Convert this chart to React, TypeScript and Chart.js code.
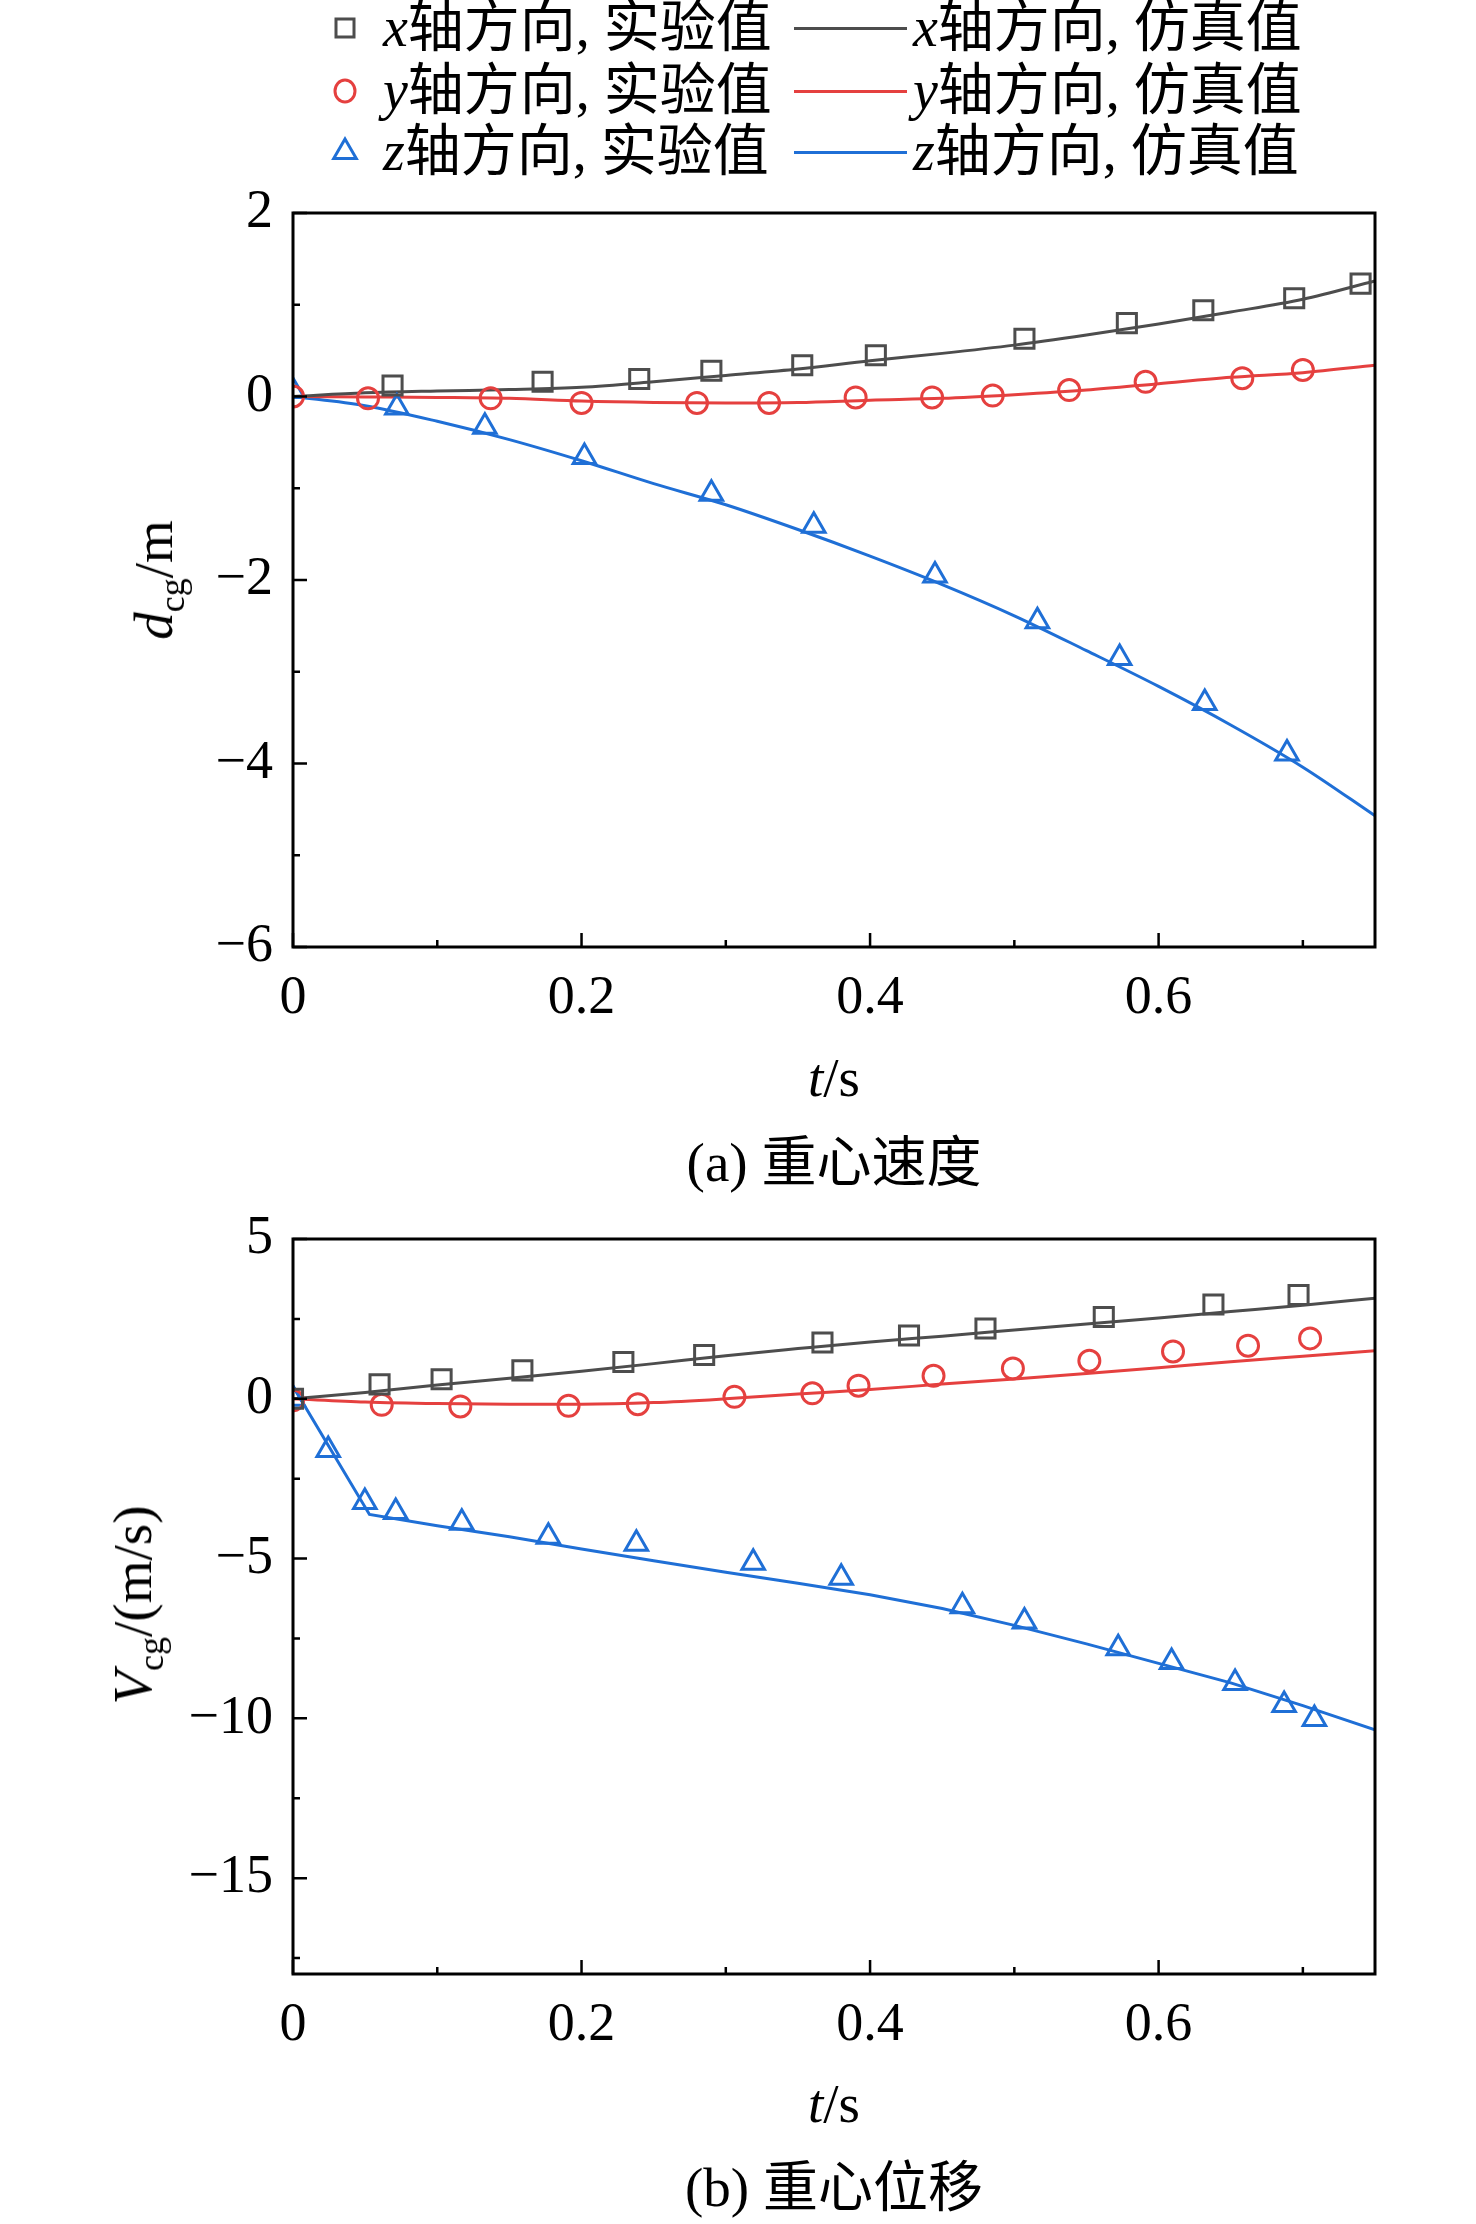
import { useEffect, useRef } from 'react';
import { Chart, registerables } from 'chart.js';

Chart.register(...registerables);

const FONT = '"Liberation Serif", "Noto Sans CJK SC", serif';
const GRAY = '#4d4d4d';
const RED = '#e5403f';
const BLUE = '#1f6fd6';

// shared axis ticks
const xTicks = [0, 0.2, 0.4, 0.6];
const xMinor = [0.1, 0.3, 0.5, 0.7];

// (a) d_cg
const dYTicks = [2, 0, -2, -4, -6];
const dYMinor = [1, -1, -3, -5];

const dxExpT = [0.069, 0.173, 0.24, 0.29, 0.353, 0.404, 0.507, 0.578, 0.631, 0.694, 0.74];
const dxExp = [0.12, 0.16, 0.19, 0.28, 0.34, 0.45, 0.63, 0.8, 0.94, 1.07, 1.23];
const dyExpT = [0, 0.052, 0.137, 0.2, 0.28, 0.33, 0.39, 0.443, 0.485, 0.538, 0.591, 0.658, 0.7];
const dyExp = [0, -0.02, -0.02, -0.07, -0.07, -0.07, -0.01, -0.01, 0.01, 0.07, 0.16, 0.2, 0.29];
const dzExpT = [0, 0.072, 0.133, 0.202, 0.29, 0.361, 0.445, 0.516, 0.573, 0.632, 0.689];
const dzExp = [0.06, -0.12, -0.33, -0.66, -1.06, -1.41, -1.95, -2.45, -2.85, -3.34, -3.89];

const dSimT = [0, 0.05, 0.1, 0.15, 0.2, 0.25, 0.3, 0.35, 0.4, 0.45, 0.5, 0.55, 0.6, 0.65, 0.7, 0.75];
const dxSim = [0, 0.04, 0.06, 0.075, 0.1, 0.16, 0.23, 0.3, 0.39, 0.47, 0.56, 0.67, 0.79, 0.92, 1.06, 1.26];
const dySim = [0, -0.005, -0.01, -0.02, -0.05, -0.065, -0.07, -0.065, -0.04, -0.02, 0.02, 0.07, 0.14, 0.21, 0.26, 0.34];
const dzSim = [0, -0.1, -0.27, -0.47, -0.7, -0.95, -1.18, -1.45, -1.74, -2.05, -2.39, -2.77, -3.16, -3.58, -4.04, -4.57];

// (b) V_cg
const vYTicks = [5, 0, -5, -10, -15];
const vYMinor = [2.5, -2.5, -7.5, -12.5, -17.5];

const vxExpT = [0, 0.06, 0.103, 0.159, 0.229, 0.285, 0.367, 0.427, 0.48, 0.562, 0.638, 0.697];
const vxExp = [0, 0.45, 0.61, 0.89, 1.15, 1.37, 1.76, 1.98, 2.2, 2.56, 2.95, 3.25];
const vyExpT = [0, 0.0615, 0.116, 0.191, 0.239, 0.306, 0.36, 0.392, 0.444, 0.499, 0.552, 0.61, 0.662, 0.705];
const vyExp = [-0.05, -0.19, -0.24, -0.22, -0.17, 0.06, 0.17, 0.41, 0.72, 0.95, 1.19, 1.48, 1.66, 1.89];
const vzExpT = [0, 0.0244, 0.0498, 0.0712, 0.117, 0.177, 0.238, 0.319, 0.38, 0.464, 0.507, 0.572, 0.609, 0.653, 0.687, 0.708];
const vzExp = [0, -1.6, -3.23, -3.54, -3.88, -4.32, -4.54, -5.13, -5.6, -6.49, -6.97, -7.81, -8.24, -8.89, -9.58, -10.02];

const vSimT = [0, 0.05, 0.1, 0.15, 0.2, 0.25, 0.3, 0.35, 0.4, 0.45, 0.5, 0.55, 0.6, 0.65, 0.7, 0.75];
const vxSim = [0, 0.2, 0.43, 0.64, 0.86, 1.1, 1.35, 1.57, 1.78, 1.96, 2.15, 2.34, 2.53, 2.73, 2.93, 3.15];
const vySim = [0, -0.1, -0.15, -0.17, -0.17, -0.12, 0, 0.15, 0.29, 0.46, 0.62, 0.79, 0.97, 1.16, 1.33, 1.5];
const vzSimT = [0, 0.053, 0.1, 0.15, 0.2, 0.25, 0.3, 0.35, 0.4, 0.45, 0.5, 0.55, 0.6, 0.65, 0.7, 0.75];
const vzSim = [0.39, -3.62, -3.97, -4.32, -4.7, -5.07, -5.43, -5.77, -6.13, -6.56, -7.09, -7.67, -8.28, -8.89, -9.6, -10.36];

const pts = (xs: number[], ys: number[]) => xs.map((x, i) => ({ x, y: ys[i] }));
const fmt = (v: number) => (v < 0 ? '\u2212' + Math.abs(v) : String(v));

const exp = (data: any[], color: string, style: string, radius: number) => ({
  data,
  showLine: false,
  pointStyle: style,
  pointRadius: radius,
  pointBorderColor: color,
  pointBackgroundColor: 'rgba(0,0,0,0)',
  pointBorderWidth: 3,
});
const sim = (data: any[], color: string, tension = true) => ({
  data,
  showLine: true,
  borderColor: color,
  borderWidth: 3,
  pointRadius: 0,
  cubicInterpolationMode: tension ? 'monotone' : 'default',
});

// frame and inward ticks
const frameTicks = {
  id: 'frameTicks',
  afterDraw(chart: any, _args: any, opts: any) {
    const { ctx, chartArea: a, scales } = chart;
    ctx.save();
    ctx.strokeStyle = '#000';
    ctx.lineWidth = 2.5;
    ctx.beginPath();
    const xt = (v: number, len: number) => {
      const p = scales.x.getPixelForValue(v);
      ctx.moveTo(p, a.bottom);
      ctx.lineTo(p, a.bottom - len);
    };
    const yt = (v: number, len: number) => {
      const p = scales.y.getPixelForValue(v);
      ctx.moveTo(a.left, p);
      ctx.lineTo(a.left + len, p);
    };
    opts.xMajor.forEach((v: number) => xt(v, 14));
    opts.xMinor.forEach((v: number) => xt(v, 7));
    opts.yMajor.forEach((v: number) => yt(v, 14));
    opts.yMinor.forEach((v: number) => yt(v, 7));
    ctx.stroke();
    ctx.lineWidth = 3;
    ctx.strokeRect(a.left, a.top, a.right - a.left, a.bottom - a.top);
    ctx.restore();
  },
};

type PanelProps = {
  areaTop: number;
  areaBottom: number;
  yMin: number;
  yMax: number;
  yTicks: number[];
  yMinor: number[];
  datasets: any[];
};

const CANVAS_H = 880;
const TOP_PAD = 60;

function Panel(props: PanelProps) {
  const ref = useRef<HTMLCanvasElement | null>(null);
  const canvasTop = props.areaTop - TOP_PAD;

  useEffect(() => {
    if (!ref.current) return;
    const xHeight = CANVAS_H - (props.areaBottom - canvasTop);
    const tickFont = { family: FONT, size: 54 };
    const chart = new Chart(ref.current, {
      type: 'scatter',
      data: { datasets: props.datasets },
      plugins: [frameTicks],
      options: {
        animation: false,
        responsive: false,
        layout: { padding: { top: TOP_PAD, right: 101, left: 0, bottom: 0 } },
        plugins: {
          legend: { display: false },
          tooltip: { enabled: false },
          frameTicks: { xMajor: xTicks, xMinor, yMajor: props.yTicks, yMinor: props.yMinor },
        } as any,
        scales: {
          x: {
            type: 'linear',
            min: 0,
            max: 0.75,
            grid: { display: false, drawTicks: false },
            border: { display: false },
            ticks: { font: tickFont, color: '#000', padding: 19, maxRotation: 0, callback: (v: any) => fmt(Number(v)) },
            afterBuildTicks: (s: any) => {
              s.ticks = xTicks.map((value) => ({ value }));
            },
            afterFit: (s: any) => {
              s.height = xHeight;
            },
          },
          y: {
            type: 'linear',
            min: props.yMin,
            max: props.yMax,
            grid: { display: false, drawTicks: false },
            border: { display: false },
            ticks: { font: tickFont, color: '#000', padding: 20, callback: (v: any) => fmt(Number(v)) },
            afterBuildTicks: (s: any) => {
              s.ticks = props.yTicks.map((value) => ({ value }));
            },
            afterFit: (s: any) => {
              s.width = 293;
            },
          },
        },
      } as any,
    });
    return () => chart.destroy();
  }, [props]);

  return (
    <canvas
      ref={ref}
      width={1476}
      height={CANVAS_H}
      style={{ position: 'absolute', left: 0, top: canvasTop, width: 1476, height: CANVAS_H }}
    />
  );
}

const txt = (left: number, top: number, content: any, extra: any = {}) => (
  <div
    style={{
      position: 'absolute',
      left,
      top,
      fontFamily: FONT,
      fontSize: 56,
      lineHeight: '60px',
      whiteSpace: 'nowrap',
      color: '#000',
      ...extra,
    }}
  >
    {content}
  </div>
);

const centered = (cx: number, cy: number, content: any, rotate = false) => (
  <div
    style={{
      position: 'absolute',
      left: cx,
      top: cy,
      transform: `translate(-50%, -50%)${rotate ? ' rotate(-90deg)' : ''}`,
      fontFamily: FONT,
      fontSize: 55,
      lineHeight: '60px',
      whiteSpace: 'nowrap',
      color: '#000',
    }}
  >
    {content}
  </div>
);

function Marker({ kind, color }: { kind: string; color: string }) {
  return (
    <svg width={40} height={40} viewBox="-20 -20 40 40" style={{ display: 'block' }}>
      {kind === 'rect' && <rect x={-9} y={-9} width={18} height={18} fill="none" stroke={color} strokeWidth={3} />}
      {kind === 'circle' && <ellipse cx={0} cy={0} rx={10} ry={11} fill="none" stroke={color} strokeWidth={3} />}
      {kind === 'triangle' && (
        <polygon points="0,-13 11.3,6.5 -11.3,6.5" fill="none" stroke={color} strokeWidth={3} />
      )}
    </svg>
  );
}

const legendRows = [
  { axis: 'x', color: GRAY, kind: 'rect', y: 28 },
  { axis: 'y', color: RED, kind: 'circle', y: 91 },
  { axis: 'z', color: BLUE, kind: 'triangle', y: 152 },
];

export default function App() {
  const italic = (s: string) => <i style={{ fontFamily: '"Liberation Serif", serif' }}>{s}</i>;

  const dSets = [
    exp(pts(dxExpT, dxExp), GRAY, 'rect', 13.5),
    exp(pts(dyExpT, dyExp), RED, 'circle', 10.5),
    exp(pts(dzExpT, dzExp), BLUE, 'triangle', 13),
    sim(pts(dSimT, dxSim), GRAY),
    sim(pts(dSimT, dySim), RED),
    sim(pts(dSimT, dzSim), BLUE),
  ];
  const vSets = [
    exp(pts(vxExpT, vxExp), GRAY, 'rect', 13.5),
    exp(pts(vyExpT, vyExp), RED, 'circle', 10.5),
    exp(pts(vzExpT, vzExp), BLUE, 'triangle', 13),
    sim(pts(vSimT, vxSim), GRAY),
    sim(pts(vSimT, vySim), RED),
    sim(pts(vzSimT, vzSim), BLUE, false),
  ];

  return (
    <div style={{ position: 'absolute', left: 0, top: 0, width: 1476, height: 2224, background: '#fff' }}>
      {legendRows.map((r) => (
        <div key={r.axis}>
          <div style={{ position: 'absolute', left: 325, top: r.y - 20 }}>
            <Marker kind={r.kind} color={r.color} />
          </div>
          {txt(383, r.y - 31, <>{italic(r.axis)}轴方向, 实验值</>)}
          <div
            style={{ position: 'absolute', left: 794, top: r.y - 1.5, width: 113, height: 3, background: r.color }}
          />
          {txt(913, r.y - 31, <>{italic(r.axis)}轴方向, 仿真值</>)}
        </div>
      ))}

      <Panel areaTop={213} areaBottom={947} yMin={-6} yMax={2} yTicks={dYTicks} yMinor={dYMinor} datasets={dSets} />
      {centered(163, 580, <>{italic('d')}<sub style={{ fontSize: 36 }}>cg</sub>/m</>, true)}
      {centered(834, 1078, <>{italic('t')}/s</>)}
      {centered(834, 1163, <>(a) 重心速度</>)}

      <Panel areaTop={1239} areaBottom={1974} yMin={-18} yMax={5} yTicks={vYTicks} yMinor={vYMinor} datasets={vSets} />
      {centered(142, 1605, <>{italic('V')}<sub style={{ fontSize: 36 }}>cg</sub>/(m/s)</>, true)}
      {centered(834, 2104, <>{italic('t')}/s</>)}
      {centered(834, 2188, <>(b) 重心位移</>)}
    </div>
  );
}
